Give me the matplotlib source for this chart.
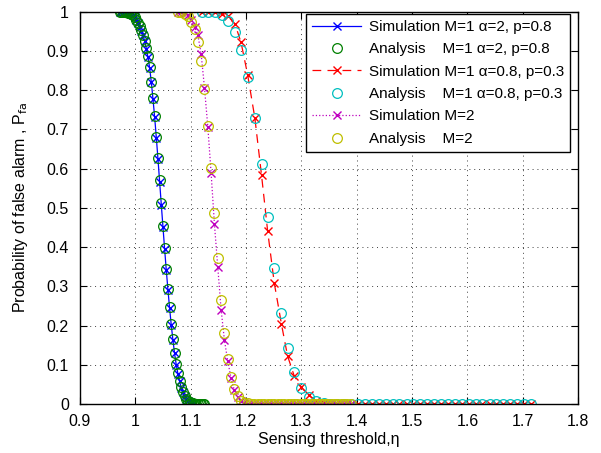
import matplotlib
matplotlib.use("Agg")
import matplotlib.pyplot as plt

# M=1, alpha=2, p=0.8
eta_a2 = [0.972, 0.975, 0.978, 0.981, 0.984, 0.987, 0.990, 0.993, 0.996, 0.999,
          1.002, 1.005, 1.008, 1.011, 1.014, 1.017, 1.020, 1.023, 1.026, 1.029,
          1.032, 1.035, 1.038, 1.041, 1.044, 1.047, 1.050, 1.053, 1.056, 1.059,
          1.062, 1.065, 1.068, 1.071, 1.074, 1.077, 1.080, 1.083, 1.086, 1.089,
          1.092, 1.095, 1.098, 1.101, 1.104, 1.107, 1.110, 1.113, 1.116, 1.119,
          1.122, 1.125]
pfa_a2_ana = [1.000, 1.000, 1.000, 1.000, 0.999, 0.998, 0.997, 0.995, 0.992, 0.987,
              0.980, 0.972, 0.963, 0.953, 0.941, 0.926, 0.908, 0.886, 0.858, 0.822,
              0.780, 0.734, 0.682, 0.627, 0.570, 0.512, 0.455, 0.398, 0.344, 0.294,
              0.247, 0.204, 0.165, 0.131, 0.102, 0.078, 0.059, 0.043, 0.031, 0.021,
              0.014, 0.009, 0.006, 0.004, 0.002, 0.001, 0.001, 0.000, 0.000, 0.000,
              0.000, 0.000]
pfa_a2_sim = [1.000, 1.000, 1.000, 1.000, 1.000, 0.998, 0.997, 0.995, 0.991, 0.987,
              0.980, 0.971, 0.962, 0.952, 0.940, 0.925, 0.906, 0.884, 0.856, 0.820,
              0.777, 0.731, 0.679, 0.624, 0.566, 0.508, 0.451, 0.395, 0.341, 0.291,
              0.244, 0.201, 0.163, 0.129, 0.100, 0.077, 0.058, 0.042, 0.030, 0.021,
              0.014, 0.009, 0.005, 0.003, 0.002]

# M=1, alpha=0.8, p=0.3
eta_a08 = [1.120, 1.132, 1.144, 1.156, 1.168, 1.180, 1.191, 1.203, 1.216, 1.228,
           1.239, 1.251, 1.264, 1.275, 1.287, 1.300, 1.313, 1.327, 1.340, 1.352,
           1.365, 1.377, 1.390, 1.402, 1.415, 1.427, 1.440, 1.452, 1.465, 1.477,
           1.490, 1.502, 1.515, 1.527, 1.540, 1.552, 1.565, 1.577, 1.590, 1.602,
           1.615, 1.627, 1.640, 1.652, 1.665, 1.677, 1.690, 1.702, 1.715]
pfa_a08_ana = [1.000, 1.000, 0.999, 0.993, 0.977, 0.948, 0.903, 0.834, 0.728, 0.612,
               0.478, 0.346, 0.232, 0.143, 0.081, 0.041, 0.019, 0.007, 0.002, 0.001,
               0.000, 0.000, 0.000, 0.000, 0.000, 0.000, 0.000, 0.000, 0.000, 0.000,
               0.000, 0.000, 0.000, 0.000, 0.000, 0.000, 0.000, 0.000, 0.000, 0.000,
               0.000, 0.000, 0.000, 0.000, 0.000, 0.000, 0.000, 0.000, 0.000]
pfa_a08_sim = [1.000, 1.000, 1.000, 0.994, 0.988, 0.969, 0.922, 0.839, 0.729, 0.584,
               0.442, 0.309, 0.204, 0.123, 0.072, 0.043, 0.023, 0.008, 0.003, 0.001,
               0.000, 0.000, 0.000, 0.000, 0.000, 0.000, 0.000, 0.000, 0.000, 0.000,
               0.000, 0.000, 0.000, 0.000, 0.000, 0.000, 0.000, 0.000, 0.000, 0.000,
               0.000, 0.000, 0.000, 0.000, 0.000, 0.000, 0.000, 0.000, 0.000]

# M=2
eta_m2 = [1.077, 1.083, 1.089, 1.095, 1.101, 1.107, 1.113, 1.119, 1.125, 1.131,
          1.137, 1.143, 1.149, 1.155, 1.161, 1.167, 1.173, 1.179, 1.185, 1.191,
          1.197, 1.203, 1.209, 1.215, 1.221, 1.227, 1.233, 1.239, 1.245, 1.251,
          1.257, 1.263, 1.269, 1.275, 1.281, 1.287, 1.293, 1.299, 1.305, 1.311,
          1.317, 1.323, 1.329, 1.335, 1.341, 1.347, 1.353, 1.359, 1.365, 1.371,
          1.377, 1.383, 1.389]
pfa_m2_ana = [1.000, 0.999, 0.995, 0.988, 0.975, 0.957, 0.924, 0.875, 0.803, 0.710,
              0.603, 0.486, 0.372, 0.265, 0.180, 0.114, 0.068, 0.038, 0.020, 0.009,
              0.004, 0.002, 0.001, 0.000, 0.000, 0.000, 0.000, 0.000, 0.000, 0.000,
              0.000, 0.000, 0.000, 0.000, 0.000, 0.000, 0.000, 0.000, 0.000, 0.000,
              0.000, 0.000, 0.000, 0.000, 0.000, 0.000, 0.000, 0.000, 0.000, 0.000,
              0.000, 0.000, 0.000]
pfa_m2_sim = [1.000, 1.000, 0.997, 0.991, 0.980, 0.962, 0.941, 0.892, 0.806, 0.707,
              0.588, 0.458, 0.349, 0.241, 0.163, 0.110, 0.066, 0.035, 0.017, 0.008,
              0.003, 0.001, 0.000, 0.000, 0.000, 0.000, 0.000, 0.000, 0.000, 0.000,
              0.000, 0.000, 0.000, 0.000, 0.000, 0.000, 0.000, 0.000, 0.000, 0.000,
              0.000, 0.000, 0.000, 0.000, 0.000, 0.000, 0.000, 0.000, 0.000, 0.000,
              0.000, 0.000, 0.000]

x_ticks = [0.9, 1.0, 1.1, 1.2, 1.3, 1.4, 1.5, 1.6, 1.7, 1.8]
x_labels = ["0.9", "1", "1.1", "1.2", "1.3", "1.4", "1.5", "1.6", "1.7", "1.8"]
y_ticks = [0.0, 0.1, 0.2, 0.3, 0.4, 0.5, 0.6, 0.7, 0.8, 0.9, 1.0]
y_labels = ["0", "0.1", "0.2", "0.3", "0.4", "0.5", "0.6", "0.7", "0.8", "0.9", "1"]

# matlab renk kodlari
MAVI = (0, 0, 1)
YESIL = (0, 0.5, 0)
KIRMIZI = (1, 0, 0)
CAMGOBEGI = (0, 0.75, 0.75)
MOR = (0.75, 0, 0.75)
SARI = (0.75, 0.75, 0)

plt.rcParams["font.family"] = ["Liberation Sans", "DejaVu Sans"]
plt.rcParams["font.size"] = 11

fig = plt.figure(figsize=(6.01, 4.53), dpi=100)
ax = fig.add_axes([0.133, 0.108, 0.829, 0.866])

sim_kw = dict(marker="x", markersize=5.5, markeredgewidth=1.0, linewidth=0.9)
ana_kw = dict(marker="o", markersize=7, markerfacecolor="none",
              markeredgewidth=0.9, linestyle="none")

n = len(pfa_a2_sim)
ax.plot(eta_a2[:n], pfa_a2_sim, "-", color=MAVI,
        label="Simulation M=1 \u03b1=2, p=0.8", **sim_kw)
ax.plot(eta_a2, pfa_a2_ana, color=YESIL, markeredgecolor=YESIL,
        label="Analysis    M=1 \u03b1=2, p=0.8", **ana_kw)
ax.plot(eta_a08, pfa_a08_sim, "--", color=KIRMIZI, dashes=(7, 5),
        label="Simulation M=1 \u03b1=0.8, p=0.3", **sim_kw)
ax.plot(eta_a08, pfa_a08_ana, color=CAMGOBEGI, markeredgecolor=CAMGOBEGI,
        label="Analysis    M=1 \u03b1=0.8, p=0.3", **ana_kw)
ax.plot(eta_m2, pfa_m2_sim, ":", color=MOR,
        label="Simulation M=2", **sim_kw)
ax.plot(eta_m2, pfa_m2_ana, color=SARI, markeredgecolor=SARI,
        label="Analysis    M=2", **ana_kw)

ax.set_xlim(0.9, 1.8)
ax.set_ylim(0, 1)
ax.set_xticks(x_ticks)
ax.set_xticklabels(x_labels)
ax.set_yticks(y_ticks)
ax.set_yticklabels(y_labels)
ax.tick_params(direction="in", top=True, right=True, length=5, width=0.8,
               labelsize=11.5)
ax.tick_params(axis="x", pad=7)
ax.tick_params(axis="y", pad=8)
ax.grid(True, linestyle=(0, (1, 4)), color="0.25", linewidth=0.7)
for s in ax.spines.values():
    s.set_linewidth(1.0)

ax.set_xlabel("Sensing threshold,\u03b7", fontsize=11.5, labelpad=2)
ax.set_ylabel("Probability of false alarm , P$_{\\mathrm{fa}}$", fontsize=11.5,
              labelpad=12)

leg = ax.legend(loc="upper right", bbox_to_anchor=(0.984, 0.995),
                borderaxespad=0, fancybox=False, framealpha=1,
                edgecolor="black", handlelength=3.2, labelspacing=0.55,
                borderpad=0.4, handletextpad=0.5, fontsize=11)
leg.get_frame().set_linewidth(1.0)

fig.savefig("out.png", dpi=100)
